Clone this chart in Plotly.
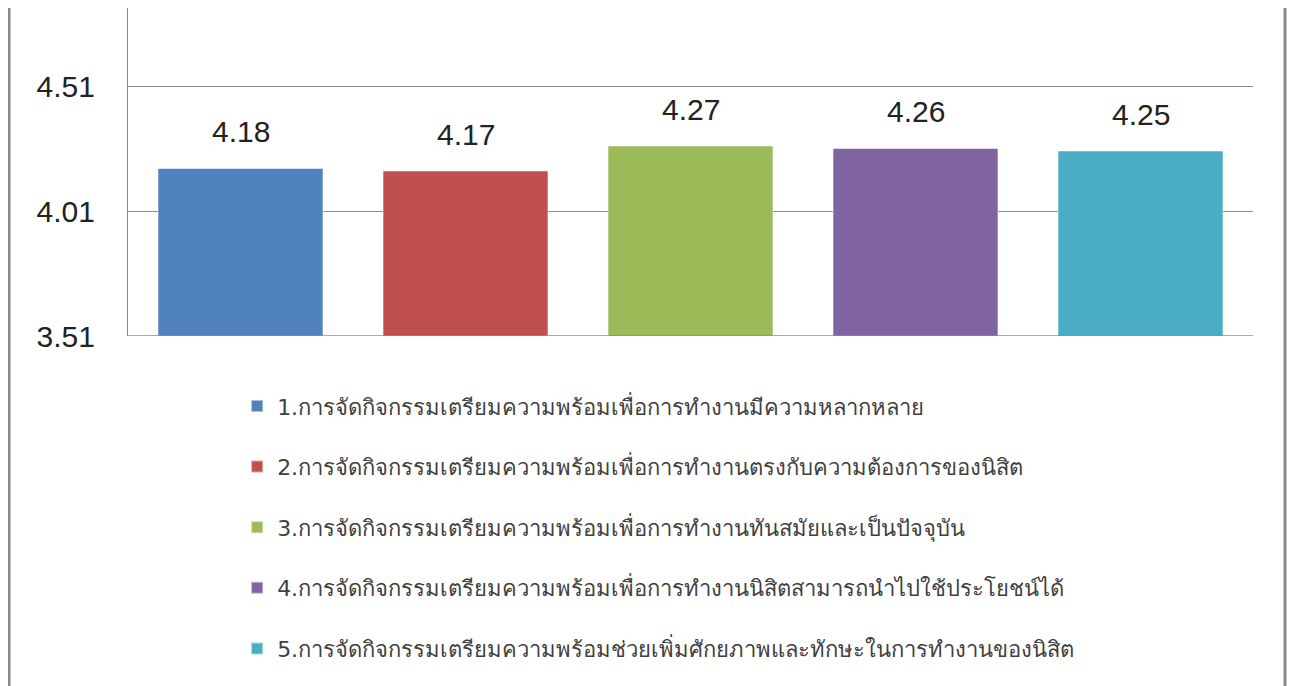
import plotly.graph_objects as go

labels = [
    "1.การจัดกิจกรรมเตรียมความพร้อมเพื่อการทำงานมีความหลากหลาย",
    "2.การจัดกิจกรรมเตรียมความพร้อมเพื่อการทำงานตรงกับความต้องการของนิสิต",
    "3.การจัดกิจกรรมเตรียมความพร้อมเพื่อการทำงานทันสมัยและเป็นปัจจุบัน",
    "4.การจัดกิจกรรมเตรียมความพร้อมเพื่อการทำงานนิสิตสามารถนำไปใช้ประโยชน์ได้",
    "5.การจัดกิจกรรมเตรียมความพร้อมช่วยเพิ่มศักยภาพและทักษะในการทำงานของนิสิต",
]
values = [4.18, 4.17, 4.27, 4.26, 4.25]
colors = ["#4F81BD", "#C0504D", "#9BBB59", "#8064A2", "#4BACC6"]
tick_vals = [3.51, 4.01, 4.51]
tick_text = ["3.51", "4.01", "4.51"]

fig = go.Figure()
for i, (lab, v, c) in enumerate(zip(labels, values, colors)):
    fig.add_trace(go.Bar(
        x=[i], y=[v], name=lab, width=0.733,
        marker=dict(color=c, line=dict(color="rgba(255,255,255,0.5)", width=1)),
        legendgroup=str(i),
    ))
    fig.add_annotation(x=i, y=v, text=f"{v:.2f}", showarrow=False,
                       yshift=37, font=dict(size=30, color="#222222",
                                            family="Liberation Sans, Arial, sans-serif"))

L, T = 120, 0
PW = 1125
fig.update_layout(
    width=1295, height=686,
    paper_bgcolor="white", plot_bgcolor="white",
    margin=dict(l=L, r=1295 - L - PW, t=T, b=358),
    barmode="overlay",
    showlegend=True,
    legend=dict(
        x=0.097, xanchor="left", y=-0.15, yanchor="top",
        font=dict(size=22, color="#404040", family="Tahoma, DejaVu Sans, Noto Sans, sans-serif"),
        tracegroupgap=29, itemsizing="constant",
        bgcolor="rgba(0,0,0,0)",
    ),
    xaxis=dict(range=[-0.5, 4.5], showticklabels=False, showgrid=False,
               zeroline=False, showline=False, fixedrange=True),
    yaxis=dict(range=[3.51, 4.822], tickvals=tick_vals, ticktext=tick_text,
               showgrid=True, gridcolor="#8c8c8c", gridwidth=1.3,
               showline=True, linecolor="#8c8c8c", linewidth=1.3,
               zeroline=False, ticks="outside", ticklen=0,
               ticklabelstandoff=26,
               tickfont=dict(size=30, color="#222222",
                             family="Liberation Sans, Arial, sans-serif")),
    shapes=[
        dict(type="line", xref="paper", yref="paper", x0=(1 - L) / PW, x1=(1 - L) / PW,
             y0=-1.2, y1=1.0, line=dict(color="#888888", width=3)),
        dict(type="line", xref="paper", yref="paper", x0=(1277 - L) / PW, x1=(1277 - L) / PW,
             y0=-1.2, y1=1.0, line=dict(color="#888888", width=3)),
        dict(type="line", xref="paper", yref="y", x0=0, x1=1,
             y0=3.51, y1=3.51, line=dict(color="#8c8c8c", width=1.3)),
    ],
)

fig.write_html(
    "out.html",
    post_script="document.documentElement.style.overflow='hidden';document.body.style.overflow='hidden';",
)
